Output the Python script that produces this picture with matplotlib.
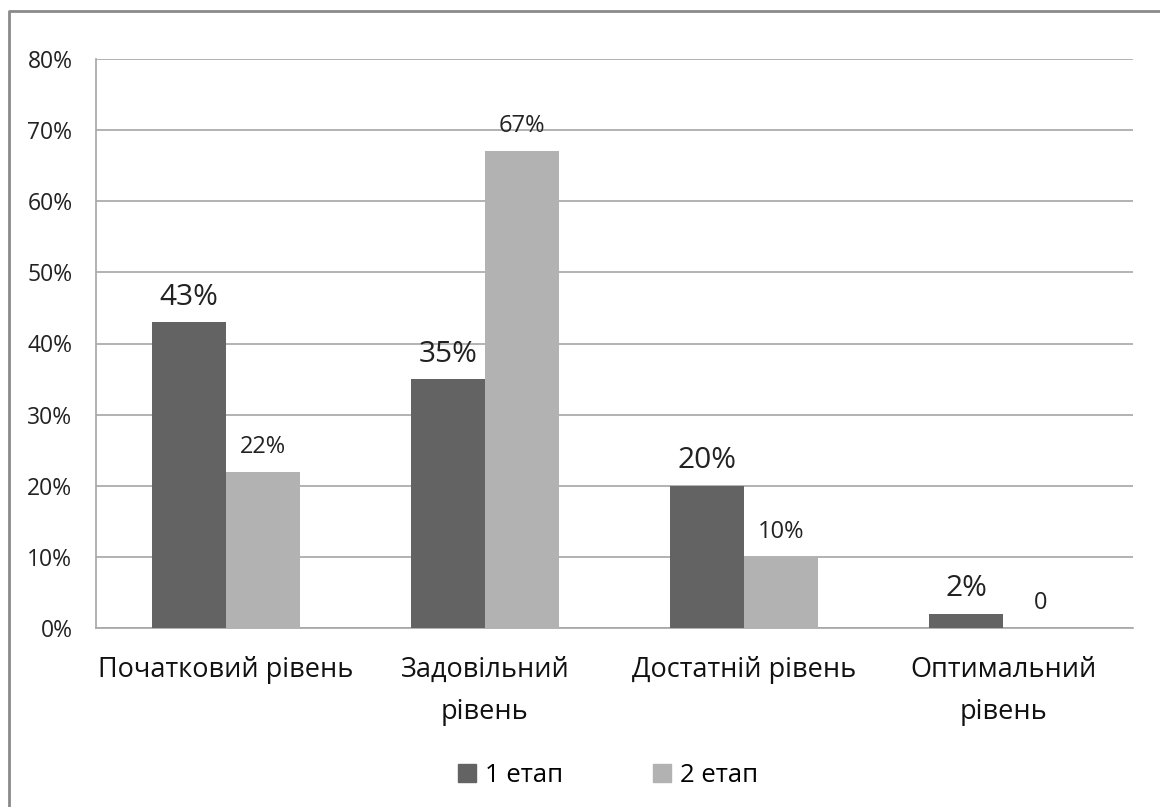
import matplotlib
matplotlib.use("Agg")
import numpy as np
import matplotlib.pyplot as plt
import matplotlib.lines as mlines
from matplotlib.patches import Patch

plt.rcParams['font.family'] = ['Open Sans', 'DejaVu Sans']

# data
categories = ["Початковий рівень", "Задовільний\nрівень", "Достатній рівень", "Оптимальний\nрівень"]
stage1 = [43, 35, 20, 2]
stage2 = [22, 67, 10, 0]
stage1_labels = ["43%", "35%", "20%", "2%"]
stage2_labels = ["22%", "67%", "10%", "0"]
series_names = ["1 етап", "2 етап"]
yticks = [0, 10, 20, 30, 40, 50, 60, 70, 80]

dark = '#636363'
light = '#b2b2b2'
gridc = '#a6a6a6'

fig = plt.figure(figsize=(11.6, 8.07), dpi=100)
ax = fig.add_axes([96/1160., 1 - 628/807., (1133 - 96)/1160., (628 - 59)/807.])

x = np.arange(len(categories))
w = 1/3.5
b1 = ax.bar(x - w/2, stage1, w, color=dark, zorder=3)
b2 = ax.bar(x + w/2, stage2, w, color=light, zorder=3)

for rect, lab in zip(b1, stage1_labels):
    ax.annotate(lab, (rect.get_x() + rect.get_width()/2, rect.get_height()),
                xytext=(0, 18), textcoords='offset points', ha='center', va='center',
                fontsize=21.5, color='#222222')
for rect, lab in zip(b2, stage2_labels):
    ax.annotate(lab, (rect.get_x() + rect.get_width()/2, rect.get_height()),
                xytext=(0, 18), textcoords='offset points', ha='center', va='center',
                fontsize=17, color='#222222')

ax.set_xlim(-0.5, len(categories) - 0.5)
ax.set_ylim(0, 80)
ax.set_yticks(yticks)
ax.set_yticklabels(["%d%%" % v for v in yticks], fontsize=16.5, color='#222222')
ax.set_xticks(x)
ax.set_xticklabels(categories, fontsize=19.5, color='#111111', linespacing=1.7)
ax.tick_params(axis='both', length=0)
ax.tick_params(axis='y', pad=17)
ax.tick_params(axis='x', pad=20)
for lab in ax.get_xticklabels():
    lab.set_verticalalignment('top')

ax.yaxis.grid(True, color=gridc, linewidth=1.2, zorder=0)
for s in ['top', 'right']:
    ax.spines[s].set_visible(False)
for s in ['left', 'bottom']:
    ax.spines[s].set_color(gridc)
    ax.spines[s].set_linewidth(1.2)

handles = [Patch(color=dark), Patch(color=light)]
fig.legend(handles, series_names, loc='center', bbox_to_anchor=(608/1160., 1 - 775/807.),
           ncol=2, frameon=False, fontsize=18.5, handlelength=0.7, handleheight=0.7,
           handletextpad=0.35, columnspacing=3.5)

# outer frame
fig.add_artist(mlines.Line2D([9/1160., 9/1160., 1.0], [0.0, 1 - 11/807., 1 - 11/807.],
                             transform=fig.transFigure, color='#8a8a8a', linewidth=2))

fig.savefig('out.png', dpi=100, facecolor='white')
